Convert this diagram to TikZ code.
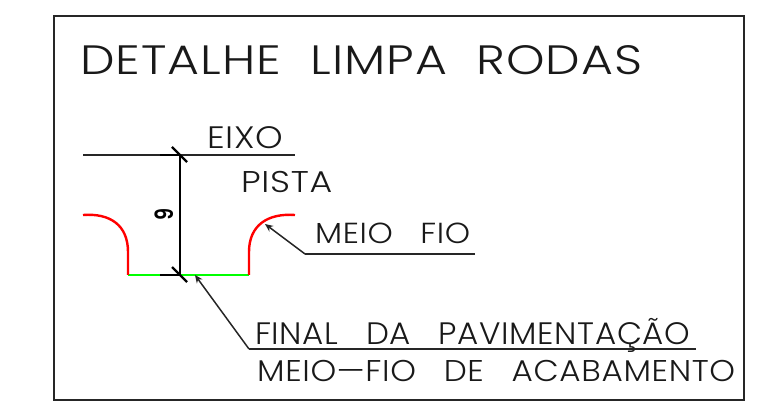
\documentclass[tikz,border=0pt]{standalone}
\usepackage{graphicx}
\usepackage{fontspec}
\usetikzlibrary{arrows.meta}
\setmainfont{Poppins}[UprightFont=* Light, BoldFont=* SemiBold, LetterSpace=2]
\newcommand{\cadlabel}[3]{\resizebox{#2pt}{\height}{\fontsize{#1pt}{#1pt}\selectfont #3}}
\newcommand{\gap}{\hspace{0.85em}}
\begin{document}
\begin{tikzpicture}[x=1pt, y=-1pt]

      \tikzset{cadtext/.style={inner sep=0pt, anchor=base west, text=black!90},
               leader/.style={line width=1.5pt, black!85},
               dimline/.style={line width=2.2pt, black},
               curb/.style={line width=2.4pt, red},
               base/.style={line width=1.8pt, green}}
      \useasboundingbox (0,0) rectangle (757,419);
%% Frame
      	\coordinate (f1) at (54,16);
      	\coordinate (f2) at (744,400);
      	\draw[line width=1.5pt, black!85] (f1) rectangle (f2);
%% Labels
      	\node[cadtext] (title) at (80,75) {\cadlabel{41}{562}{DETALHE\hspace{0.6em}LIMPA\hspace{0.6em}RODAS}};
      	\node[cadtext] (eixo) at (207,149) {\cadlabel{31}{76}{EIXO}};
      	\node[cadtext] (pista) at (241,193) {\cadlabel{30}{91}{PISTA}};
      	\node[cadtext] (meiofio) at (315,244) {\cadlabel{29}{155}{MEIO\gap FIO}};
      	\node[cadtext] (final) at (255,344) {\cadlabel{31}{435}{FINAL\gap DA\gap PAVIMENTAÇÃO}};
      	\node[cadtext] (acab) at (257,381) {\cadlabel{30}{478}{MEIO—FIO\gap DE\gap ACABAMENTO}};
      	\node[inner sep=0pt, rotate=90] (dim) at (164,215) {\cadlabel{25}{12}{\bfseries 9}};
%% Points
      	\coordinate (e1) at (83,155);
      	\coordinate (e2) at (295,155);
      	\coordinate (d1) at (180,155);
      	\coordinate (d2) at (180,275);
      	\coordinate (g1) at (128,275);
      	\coordinate (g2) at (249,275);
      	\coordinate (m0) at (305,254);
      	\coordinate (m1) at (475,254);
      	\coordinate (mtip) at (265,224);
      	\coordinate (p0) at (249,349);
      	\coordinate (p1) at (696,349);
      	\coordinate (ptip) at (195,275);
%Edges
		\draw[leader] (e1) -- (e2);
		\draw[base] (g1) -- (g2);
		\draw[curb] (83,215) .. controls (110,213) and (128,225) .. (128,252) -- (g1);
		\draw[curb] (295,215) .. controls (268,213) and (249,225) .. (249,252) -- (g2);
		\draw[dimline] (d1) -- (d2);
		\draw[dimline] (160,155) -- (d1);
		\draw[dimline] (160,275) -- (d2);
		\draw[dimline] (172,147) -- (187,162);
		\draw[dimline] (172,267) -- (187,282);
		\draw[leader] (m1) -- (m0);
		\draw[leader, -{Stealth[length=8pt, width=7pt]}] (m0) -- (mtip);
		\draw[leader] (p1) -- (p0);
		\draw[leader, -{Stealth[length=8pt, width=7pt]}] (p0) -- (ptip);

	\end{tikzpicture}
\end{document}
